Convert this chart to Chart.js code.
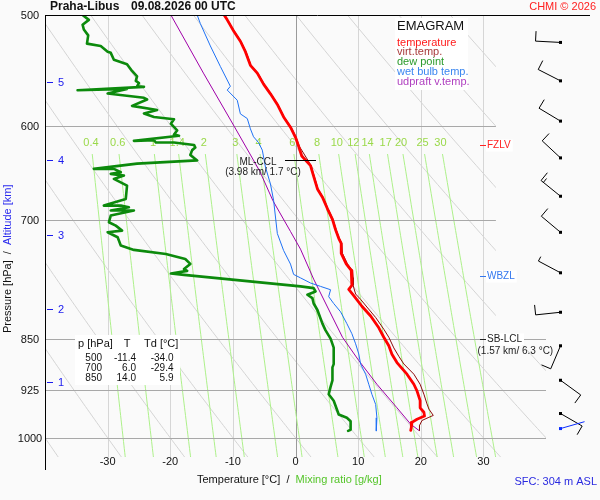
<!DOCTYPE html>
<html>
<head>
<meta charset="utf-8">
<script src="https://cdn.jsdelivr.net/npm/chart.js@4.4.0/dist/chart.umd.min.js"></script>
<style>
html, body { margin: 0; padding: 0; background: #fafafa; }
canvas { display: block; }
</style>
</head>
<body>
<canvas id="emagram" width="600" height="500"></canvas>
<script>
// sounding Praha-Libus 09.08.2026 00 UTC
const tempP = [500, 504, 514, 522, 531, 543, 550, 560, 569, 579, 591, 601, 611, 620, 630, 640, 647, 665, 674, 687,
  699, 711, 721, 727, 739, 752, 760, 769, 779, 784, 792, 806, 819, 835, 848, 860, 872, 884, 901, 916,
  926, 941, 952, 959, 965, 970, 975, 983, 988];
const tempT = [-11.4, -10.9, -9.8, -8.8, -8.0, -7.2, -6.1, -5.1, -4.0, -2.9, -1.9, -0.8, 0.0, 0.5, 1.0, 2.4, 2.7, 3.5, 4.3, 5.1,
  5.9, 6.4, 6.9, 7.3, 7.3, 8.1, 8.9, 9.0, 9.0, 8.5, 9.3, 10.6, 12.0, 13.3, 14.1, 14.9, 15.4, 16.2, 17.8, 18.9,
  19.4, 19.9, 19.9, 20.5, 20.6, 19.4, 18.6, 18.5, 18.4];

const virtP = [500, 514, 522, 531, 543, 550, 560, 569, 579, 591, 601, 611, 620, 640, 647, 665, 674, 687, 699, 711,
  721, 727, 739, 752, 760, 769, 779, 790, 797, 807, 821, 837, 848, 863, 875, 886, 901, 916, 931, 946,
  954, 964, 967, 972, 980, 988];
const virtT = [-11.3, -9.7, -8.7, -7.9, -7.1, -6.0, -5.0, -3.9, -2.8, -1.8, -0.7, 0.1, 0.6, 2.5, 2.8, 3.6, 4.4, 5.2, 6.0, 6.5,
  7.0, 7.4, 7.5, 8.3, 9.1, 9.2, 9.2, 9.6, 10.4, 11.4, 12.8, 14.1, 14.9, 15.7, 16.5, 17.3, 18.9, 19.9, 20.5, 21.0,
  21.3, 22.0, 21.3, 20.2, 19.8, 19.8];

const dewP = [500, 504, 508, 512, 517, 524, 526, 531, 532, 538,
  542, 548, 553, 557, 559, 562, 562.5, 565.6, 564.4, 568.7,
  572.7, 574.3, 580.3, 584.3, 587.6, 591, 593.2, 597.5, 604.2, 608.3,
  609.4, 614.6, 613.8, 616.3, 616.3, 618.7, 621.4, 624, 629, 634.6,
  638, 643.5, 643.5, 647, 648.8, 650.6, 654.2, 661.4, 676, 683.4,
  683.4, 685.3, 689, 689, 694.7, 702.3, 706.2, 712, 713.9, 719.8,
  729.7, 734.9, 739.9, 746, 752, 758.4, 760.6, 763.9, 765.6, 780.2,
  782.4, 786.7, 791, 795.3, 802.4, 811, 829.3, 838.5, 850, 862.6,
  886.2, 891, 910.3, 920, 931.2, 941, 957.1, 962.5, 967.8, 973.3,
  987, 988.7];
const dewT = [-34.0, -33.0, -34.0, -33.8, -33.1, -33.3, -31.1, -30.0, -29.5, -29.0,
  -26.9, -26.1, -25.3, -25.5, -25.0, -25.3, -24.2, -34.8, -26.9, -30.0,
  -24.2, -23.7, -26.1, -22.1, -24.2, -22.6, -19.4, -19.9, -18.9, -19.4,
  -18.6, -25.8, -22.6, -22.3, -19.4, -16.2, -16.0, -16.5, -16.8, -15.7,
  -25.3, -32.2, -29.0, -27.9, -29.5, -27.4, -29.0, -26.9, -27.1, -30.6,
  -27.9, -26.6, -29.5, -25.8, -29.5, -29.8, -28.7, -27.7, -30.0, -28.4,
  -27.9, -25.8, -20.7, -17.6, -16.8, -17.8, -17.3, -19.9, -17.8, 0.8,
  2.9, 3.2, 1.9, 2.7, 2.9, 3.5, 4.3, 4.8, 5.6, 6.1,
  6.1, 5.9, 5.9, 5.6, 5.3, 6.1, 6.7, 6.9, 8.2, 8.8,
  8.8, 8.4];

const wetP = [500, 507, 526, 544, 562, 565.5, 575, 588, 592.5, 602.6, 610.5, 616.3, 624, 641.5, 659.6, 677.4, 715.4, 735.6, 752.2, 765,
  769.4, 775.9, 780.2, 784.5, 793.4, 802.4, 813.4, 829.3, 843.1, 857.2, 871.6, 886.2, 901, 916, 931.2, 946.8, 967.8, 988.7];
const wetT = [-15.7, -15.2, -13.6, -12.0, -10.4, -10.9, -9.3, -8.8, -7.7, -7.2, -6.7, -5.9, -5.3, -4.8, -4.0, -3.5, -2.9, -1.9, -0.8, -0.3,
  0.8, 2.4, 4.0, 5.6, 5.3, 6.1, 7.2, 8.2, 9.0, 9.6, 10.1, 10.4, 11.2, 11.7, 12.2, 12.8, 13.0, 12.9];

const updP = [500, 550, 600, 646, 678, 713, 734, 771, 807, 848, 881, 916, 952, 978, 988];
const updT = [-19.9, -14.7, -9.8, -5.7, -3.6, -0.8, 0.8, 2.9, 5.1, 7.5, 10.1, 13.0, 16.2, 18.4, 19.7];

// wind barbs (direction deg, speed kt)
const windP = [523, 557, 595, 632, 673, 714, 763, 814, 860, 910, 961];
const windDir = [273, 297, 301, 313, 309, 310, 298, 264, 203, 126, 120];
const windKt = [10, 10, 10, 10, 15, 10, 5, 10, 10, 10, 10];
const sfcWind = { p: 985, dir: 74, kt: 3 };

// axes and background isopleths
const pressureTicks = [500, 600, 700, 850, 925, 1000];
const tempTicks = [-30, -20, -10, 0, 10, 20, 30];
const mixRatios = [0.4, 0.6, 1, 1.4, 2, 3, 4, 6, 8, 10, 12, 14, 17, 20, 25, 30];
const thetaLines = [-40, -30, -20, -10, 0, 10, 20, 30, 40, 50, 60, 70, 80, 90, 100, 110];
const altKm = [1, 2, 3, 4, 5];
const altP = [913, 810, 717, 634, 558];

const tableP = [500, 700, 850];
const tableT = [-11.4, 6.0, 14.0];
const tableTd = [-34.0, -29.4, 5.9];

const legendItems = ['temperature', 'virt.temp.', 'dew point', 'wet bulb temp.', 'udpraft v.temp.'];
const legendColors = ['#ff1a1a', '#a83a3a', '#2a9a2a', '#3a86f0', '#b040c0'];

const FONT = '"Liberation Sans", Arial, sans-serif';

function pts(P, T) {
    return P.map((p, i) => ({ x: T[i], y: p }));
}

function mixTemp(w, p) {
    const e = w * p / (622 + w);
    const l = Math.log(e / 6.112);
    return 243.5 * l / (17.67 - l);
}

function drawBarb(ctx, bx, by, dir, kt, color) {
    const r = dir * Math.PI / 180;
    const ux = Math.sin(r), uy = -Math.cos(r);
    const vx = -uy, vy = ux;
    const ex = bx + ux * 25, ey = by + uy * 25;
    ctx.strokeStyle = color;
    ctx.fillStyle = color;
    ctx.lineWidth = 1;
    ctx.beginPath();
    ctx.moveTo(bx, by);
    ctx.lineTo(ex, ey);
    let left = kt, pos = 0;
    while (left >= 10) {
        const sx = ex - ux * pos, sy = ey - uy * pos;
        ctx.moveTo(sx, sy);
        ctx.lineTo(sx + vx * 10, sy + vy * 10);
        left -= 10;
        pos += 3;
    }
    if (left >= 5) {
        const sx = ex - ux * pos, sy = ey - uy * pos;
        ctx.moveTo(sx, sy);
        ctx.lineTo(sx + vx * 5, sy + vy * 5);
    }
    ctx.stroke();
    ctx.fillRect(bx - 1.5, by - 1.5, 3, 3);
}

const emagramPlugin = {
    id: 'emagram',
    beforeDraw(chart) {
        const ctx = chart.ctx;
        ctx.save();
        ctx.fillStyle = '#fafafa';
        ctx.fillRect(0, 0, chart.width, chart.height);
        ctx.restore();
    },
    beforeDatasetsDraw(chart) {
        const { ctx, chartArea: a, scales: { x, y } } = chart;
        ctx.save();
        ctx.beginPath();
        ctx.moveTo(a.left, a.top);
        ctx.lineTo(x.getPixelForValue(32), a.top);
        ctx.lineTo(x.getPixelForValue(32), y.getPixelForValue(842));
        ctx.lineTo(a.right, y.getPixelForValue(842));
        ctx.lineTo(a.right, a.bottom);
        ctx.lineTo(a.left, a.bottom);
        ctx.closePath();
        ctx.clip();
        ctx.lineWidth = 1;

        // dry adiabats
        ctx.strokeStyle = '#d4d4d4';
        thetaLines.forEach(th => {
            ctx.beginPath();
            for (let p = 495; p <= 1040; p += 5) {
                const t = (th + 273.15) * Math.pow(p / 1000, 0.286) - 273.15;
                const px = x.getPixelForValue(t), py = y.getPixelForValue(p);
                if (p === 495) ctx.moveTo(px, py); else ctx.lineTo(px, py);
            }
            ctx.stroke();
        });

        // isotherms
        tempTicks.forEach(t => {
            const px = Math.round(x.getPixelForValue(t)) + 0.5;
            ctx.strokeStyle = t === 0 ? '#9a9a9a' : '#d6d6d6';
            ctx.beginPath();
            ctx.moveTo(px, a.top);
            ctx.lineTo(px, a.bottom);
            ctx.stroke();
        });

        // mixing ratio lines
        ctx.strokeStyle = '#adf08a';
        mixRatios.forEach(w => {
            ctx.beginPath();
            for (let p = 628; p <= 1040; p += 6) {
                const px = x.getPixelForValue(mixTemp(w, p)), py = y.getPixelForValue(p);
                if (p === 628) ctx.moveTo(px, py); else ctx.lineTo(px, py);
            }
            ctx.stroke();
        });

        // isobars
        ctx.strokeStyle = '#a8a8a8';
        pressureTicks.slice(1).forEach(p => {
            const py = Math.round(y.getPixelForValue(p)) + 0.5;
            ctx.beginPath();
            ctx.moveTo(a.left, py);
            ctx.lineTo(a.right, py);
            ctx.stroke();
        });
        ctx.restore();

        // mixing ratio labels
        ctx.save();
        ctx.font = '11px ' + FONT;
        ctx.fillStyle = '#9ad94a';
        ctx.textAlign = 'center';
        ctx.textBaseline = 'middle';
        const ly = y.getPixelForValue(616);
        mixRatios.forEach(w => {
            ctx.fillText(String(w), x.getPixelForValue(mixTemp(w, 616)), ly + 0.5);
        });
        ctx.restore();
    },
    afterDraw(chart) {
        const { ctx, chartArea: a, scales: { x, y } } = chart;
        ctx.save();

        // frame
        ctx.strokeStyle = '#000';
        ctx.lineWidth = 1;
        ctx.beginPath();
        ctx.moveTo(a.left, a.top + 0.5);
        ctx.lineTo(590, a.top + 0.5);
        ctx.moveTo(a.left + 0.5, a.top);
        ctx.lineTo(a.left + 0.5, 470);
        ctx.stroke();

        // title
        ctx.fillStyle = '#111';
        ctx.font = 'bold 12px ' + FONT;
        ctx.textBaseline = 'middle';
        ctx.textAlign = 'left';
        ctx.fillText('Praha-Libus', 50, 7);
        ctx.fillText('09.08.2026 00 UTC', 131, 7);
        ctx.font = '11px ' + FONT;
        ctx.fillStyle = '#ff2020';
        ctx.textAlign = 'right';
        ctx.fillText('CHMI \u00a9 2026', 596, 7);

        // pressure tick labels
        ctx.fillStyle = '#111';
        ctx.textAlign = 'center';
        pressureTicks.forEach(p => ctx.fillText(String(p), 30, y.getPixelForValue(p) + 1));
        // temperature tick labels
        tempTicks.forEach(t => ctx.fillText(String(t), x.getPixelForValue(t), 462));

        // altitude ticks
        ctx.strokeStyle = '#1a1aee';
        ctx.fillStyle = '#1a1aee';
        ctx.textAlign = 'left';
        altKm.forEach((k, i) => {
            const py = Math.round(y.getPixelForValue(altP[i])) + 0.5;
            ctx.beginPath();
            ctx.moveTo(47, py);
            ctx.lineTo(53, py);
            ctx.stroke();
            ctx.fillText(String(k), 58, py);
        });

        // axis titles
        ctx.textAlign = 'left';
        let tx = 197;
        ctx.fillStyle = '#111';
        ctx.fillText('Temperature [\u00b0C]  /  ', tx, 480);
        tx += ctx.measureText('Temperature [\u00b0C]  /  ').width;
        ctx.fillStyle = '#55c52a';
        ctx.fillText('Mixing ratio [g/kg]', tx, 480);

        ctx.save();
        ctx.translate(8, 333);
        ctx.rotate(-Math.PI / 2);
        ctx.fillStyle = '#111';
        ctx.fillText('Pressure [hPa]  /  ', 0, 0);
        const w0 = ctx.measureText('Pressure [hPa]  /  ').width;
        ctx.fillStyle = '#2a2aee';
        ctx.fillText('Altitude [km]', w0, 0);
        ctx.restore();

        ctx.fillStyle = '#2a2ae0';
        ctx.textAlign = 'right';
        ctx.fillText('SFC: 304 m ASL', 597, 482);

        // legend box
        ctx.fillStyle = '#ffffff';
        ctx.fillRect(395, 18, 73, 72);
        ctx.textAlign = 'left';
        ctx.fillStyle = '#111';
        ctx.font = '13px ' + FONT;
        ctx.fillText('EMAGRAM', 397, 26);
        ctx.font = '11px ' + FONT;
        legendItems.forEach((s, i) => {
            ctx.fillStyle = legendColors[i];
            ctx.fillText(s, 397, 42.5 + i * 9.8);
        });

        // table
        ctx.fillStyle = '#ffffff';
        ctx.fillRect(75, 335, 105, 50);
        ctx.fillStyle = '#111';
        ctx.font = '11px ' + FONT;
        ctx.textAlign = 'left';
        ctx.fillText('p [hPa]', 78, 343.5);
        ctx.fillText('Td [\u00b0C]', 144, 343.5);
        ctx.textAlign = 'center';
        ctx.fillText('T', 127, 343.5);
        ctx.font = '10px ' + FONT;
        ctx.textAlign = 'right';
        tableP.forEach((p, i) => {
            const ry = 358.5 + i * 10;
            ctx.fillText(String(p), 102, ry);
            ctx.fillText(tableT[i].toFixed(1), 136, ry);
            ctx.fillText(tableTd[i].toFixed(1), 173.5, ry);
        });

        // level annotations
        const level = (p, text, color, line2) => {
            const py = Math.round(y.getPixelForValue(p)) + 0.5;
            ctx.font = '10px ' + FONT;
            const tw = ctx.measureText(text).width;
            ctx.fillStyle = '#ffffff';
            ctx.fillRect(486, py - 6, tw + 3, 12);
            ctx.strokeStyle = color;
            ctx.beginPath();
            ctx.moveTo(480, py);
            ctx.lineTo(486, py);
            ctx.stroke();
            ctx.fillStyle = color;
            ctx.textAlign = 'left';
            ctx.fillText(text, 487, py);
            if (line2) {
                ctx.fillStyle = '#222';
                ctx.fillText(line2, 477.5, py + 12);
            }
        };
        level(619, 'FZLV', '#ff2020');
        level(767, 'WBZL', '#3377ee');
        level(850, 'SB-LCL', '#222', '(1.57 km/ 6.3 \u00b0C)');

        // ML-CCL
        const cy = Math.round(y.getPixelForValue(634)) + 0.5;
        ctx.strokeStyle = '#000';
        ctx.beginPath();
        ctx.moveTo(285, cy);
        ctx.lineTo(316, cy);
        ctx.stroke();
        ctx.fillStyle = '#222';
        ctx.textAlign = 'center';
        ctx.font = '10px ' + FONT;
        ctx.fillText('ML-CCL', 258, cy + 1.5);
        ctx.fillText('(3.98 km/ 1.7 \u00b0C)', 263, cy + 12);

        // wind barbs
        windP.forEach((p, i) => drawBarb(ctx, 560.5, y.getPixelForValue(p), windDir[i], windKt[i], '#000'));
        drawBarb(ctx, 560.5, y.getPixelForValue(sfcWind.p), sfcWind.dir, sfcWind.kt, '#0a2cff');

        ctx.restore();
    }
};

new Chart(document.getElementById('emagram'), {
    type: 'scatter',
    data: {
        datasets: [
            { label: 'dew point', data: pts(dewP, dewT), borderColor: '#0c8a0c', borderWidth: 2.6, order: 0 },
            { label: 'temperature', data: pts(tempP, tempT), borderColor: '#ff0000', borderWidth: 2.8, order: 1 },
            { label: 'virt.temp.', data: pts(virtP, virtT), borderColor: '#8e0a0a', borderWidth: 1, order: 2 },
            { label: 'wet bulb temp.', data: pts(wetP, wetT), borderColor: '#1f72f5', borderWidth: 1, order: 3 },
            { label: 'udpraft v.temp.', data: pts(updP, updT), borderColor: '#a000a8', borderWidth: 1, order: 4 }
        ]
    },
    options: {
        responsive: false,
        animation: false,
        devicePixelRatio: 1,
        layout: { padding: { left: 45, top: 15, right: 54, bottom: 43 } },
        datasets: { scatter: { showLine: true } },
        elements: {
            point: { radius: 0, hoverRadius: 0 },
            line: { tension: 0, fill: false, borderJoinStyle: 'round', borderCapStyle: 'round' }
        },
        plugins: { legend: { display: false }, tooltip: { enabled: false } },
        scales: {
            x: { type: 'linear', min: -40, max: 40, display: false },
            y: { type: 'logarithmic', min: 500, max: 1032, reverse: true, display: false }
        }
    },
    plugins: [emagramPlugin]
});
</script>
</body>
</html>
